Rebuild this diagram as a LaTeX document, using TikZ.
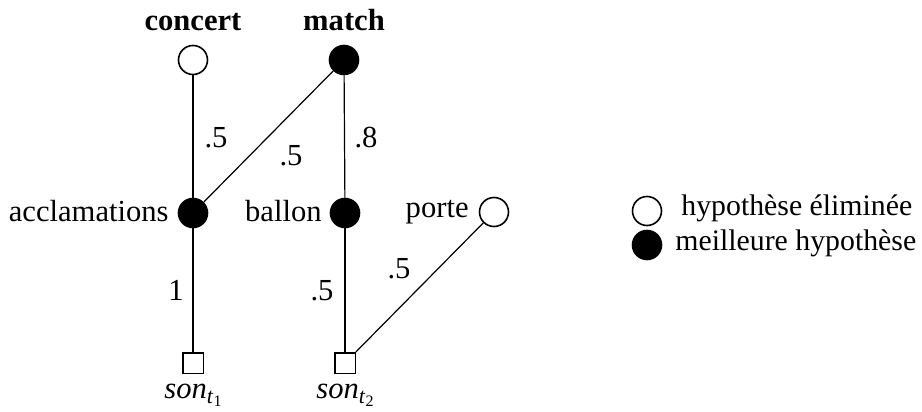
\documentclass[tikz,border=0pt]{standalone}
\usepackage{fontspec}
\setmainfont{Liberation Serif}
\newcommand{\sonlabel}[1]{\textit{son}\raisebox{-0.4ex}{\fontsize{11}{11}\selectfont\textit{t}\raisebox{-0.3ex}{\fontsize{8}{8}\selectfont #1}}}
\begin{document}
\begin{tikzpicture}[x=0.5pt,y=-0.5pt,
  font=\fontsize{15.3}{18}\selectfont,
  hyp/.style={circle, draw, line width=0.8pt, minimum size=14.5pt, inner sep=0pt},
  best/.style={hyp, fill=black},
  obs/.style={rectangle, draw, line width=0.7pt, minimum size=10.2pt, inner sep=0pt},
  edge/.style={line width=0.6pt},
  lbl/.style={inner sep=0pt},
  legendtext/.style={lbl, anchor=base west, font=\fontsize{14.9}{18}\selectfont}]
\useasboundingbox (0,0) rectangle (922,412);
% hypothesis nodes
\node[hyp]  (concert) at (193,60) {};
\node[best] (match)   at (344,60) {};
\node[best] (accl)    at (193,213) {};
\node[best] (ballon)  at (345,213) {};
\node[hyp]  (porte)   at (494,212) {};
\node[obs]  (s1)      at (193,363) {};
\node[obs]  (s2)      at (345,363) {};
% node labels
\node[lbl, anchor=base] (tconcert) at (193,31) {\textbf{concert}};
\node[lbl, anchor=base] (tmatch)   at (344,31) {\textbf{match}};
\node[lbl, anchor=base east] (taccl)   at (169,221) {acclamations};
\node[lbl, anchor=base east] (tballon) at (322,221) {ballon};
\node[lbl, anchor=base east] (tporte)  at (469,217) {porte};
\node[lbl, anchor=base] (ts1) at (193,398) {\sonlabel{1}};
\node[lbl, anchor=base] (ts2) at (345,398) {\sonlabel{2}};
% connectors
\draw[edge] (concert) -- (accl);
\draw[edge] (match) -- (accl);
\draw[edge] (match) -- (ballon);
\draw[edge] (accl) -- (s1);
\draw[edge] (ballon) -- (s2);
\draw[edge] (porte) -- (s2);
% edge labels
\node[lbl, anchor=base] (w1) at (216,147) {.5};
\node[lbl, anchor=base] (w2) at (291,165) {.5};
\node[lbl, anchor=base] (w3) at (366,147) {.8};
\node[lbl, anchor=base] (w4) at (176,300) {1};
\node[lbl, anchor=base] (w5) at (322,300) {.5};
\node[lbl, anchor=base] (w6) at (399,278) {.5};
% legend
\node[hyp]  (lh) at (647,211) {};
\node[best] (lb) at (647,245) {};
\node[legendtext] (tlh) at (681,215) {hypothèse éliminée};
\node[legendtext] (tlb) at (675,250) {meilleure hypothèse};
\end{tikzpicture}
\end{document}
